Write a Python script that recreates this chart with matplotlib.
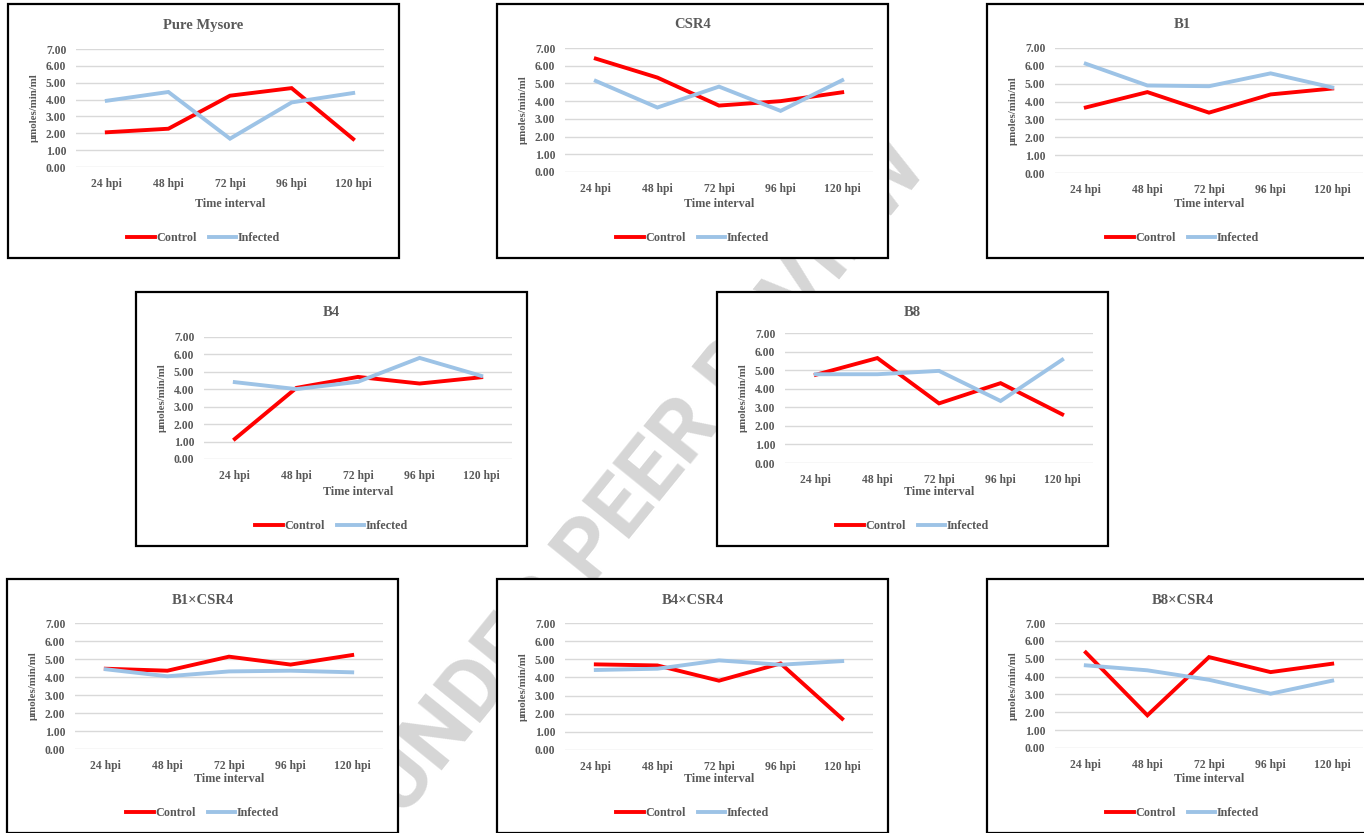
import matplotlib
matplotlib.use("Agg")
import matplotlib.pyplot as plt
from matplotlib.patches import Rectangle

W, H = 1364, 833

times = ["24 hpi", "48 hpi", "72 hpi", "96 hpi", "120 hpi"]
titles = ["Pure Mysore", "CSR4", "B1", "B4", "B8", "B1×CSR4", "B4×CSR4", "B8×CSR4"]

control = [
    [2.06, 2.27, 4.23, 4.68, 1.66],
    [6.40, 5.33, 3.75, 4.00, 4.50],
    [3.67, 4.53, 3.38, 4.40, 4.73],
    [1.15, 4.08, 4.71, 4.33, 4.69],
    [4.75, 5.65, 3.21, 4.30, 2.62],
    [4.46, 4.35, 5.13, 4.69, 5.22],
    [4.72, 4.66, 3.82, 4.77, 1.72],
    [5.35, 1.83, 5.09, 4.25, 4.72],
]
infected = [
    [3.93, 4.45, 1.68, 3.83, 4.39],
    [5.14, 3.64, 4.82, 3.45, 5.18],
    [6.12, 4.90, 4.86, 5.58, 4.79],
    [4.41, 4.01, 4.43, 5.80, 4.77],
    [4.78, 4.78, 4.96, 3.34, 5.56],
    [4.43, 4.04, 4.31, 4.35, 4.26],
    [4.41, 4.48, 4.94, 4.70, 4.90],
    [4.63, 4.35, 3.82, 3.04, 3.77],
]
yticks = [0, 1, 2, 3, 4, 5, 6, 7]

# box top-left corners in pixels, and plot top/bottom offsets inside the box
boxes = [(8, 4), (497, 4), (987, 4), (136, 292), (717, 292), (7, 579), (497, 579), (987, 579)]
plot_tb = [(45, 163), (44, 168), (44, 169), (45, 167), (41, 171), (44, 170), (44, 171), (44, 169)]
BW, BH = 391, 254

RED = "#ff0000"
BLUE = "#9dc3e6"
GRAY = "#595959"
FONT = "Liberation Serif"

plt.rcParams["font.family"] = FONT
plt.rcParams["font.weight"] = "bold"

fig = plt.figure(figsize=(W / 100, H / 100), dpi=100)
fig.patch.set_facecolor("white")

# faint watermark behind the panels
fig.text(648 / W, 1 - 478 / H, "UNDER PEER REVIEW", family="Roboto",
         fontweight="bold", fontsize=62, color="#d6d6d6", rotation=51,
         ha="center", va="center", rotation_mode="anchor", zorder=0.5)

for i, title in enumerate(titles):
    x0, y0 = boxes[i]
    top, bot = plot_tb[i]
    fig.patches.append(Rectangle((x0 / W, 1 - (y0 + BH) / H), BW / W, BH / H,
                                 transform=fig.transFigure, facecolor="white",
                                 edgecolor="black", linewidth=1.6, zorder=1))
    ax = fig.add_axes([(x0 + 68) / W, 1 - (y0 + bot) / H, 308 / W, (bot - top) / H])
    ax.set_zorder(2)
    ax.patch.set_alpha(0)
    xs = range(len(times))
    ax.plot(xs, control[i], color=RED, lw=2.8, label="Control", solid_joinstyle="miter")
    ax.plot(xs, infected[i], color=BLUE, lw=2.8, label="Infected", solid_joinstyle="miter")
    ax.set_xlim(-0.5, len(times) - 0.5)
    ax.set_ylim(0, 7)
    ax.set_yticks(yticks)
    ax.set_yticklabels(["%.2f" % v for v in yticks])
    ax.set_xticks(list(xs))
    ax.set_xticklabels(times)
    ax.grid(axis="y", color="#d9d9d9", lw=1)
    ax.set_axisbelow(True)
    for s in ax.spines.values():
        s.set_visible(False)
    ax.tick_params(length=0, labelsize=8.4, colors=GRAY)
    ax.tick_params(axis="y", pad=7)
    ax.tick_params(axis="x", pad=8)

    fig.text((x0 + BW / 2) / W, 1 - (y0 + 21) / H, title, fontsize=10.5,
             color=GRAY, ha="center", va="center", zorder=3)
    fig.text((x0 + 222) / W, 1 - (y0 + 200) / H, "Time interval", fontsize=8.7,
             color=GRAY, ha="center", va="center", zorder=3)
    fig.text((x0 + 26) / W, 1 - (y0 + (top + bot) / 2) / H, "µmoles/min/ml",
             fontsize=7.8, color=GRAY, ha="center", va="center", rotation=90, zorder=3)
    leg = ax.legend(loc="center", ncol=2, frameon=False, fontsize=8.7,
                    handlelength=2.3, handletextpad=0.1, columnspacing=1.0,
                    bbox_to_anchor=((x0 + BW / 2) / W, 1 - (y0 + 234) / H),
                    bbox_transform=fig.transFigure)
    for t in leg.get_texts():
        t.set_color(GRAY)

fig.savefig("out.png", dpi=100)
